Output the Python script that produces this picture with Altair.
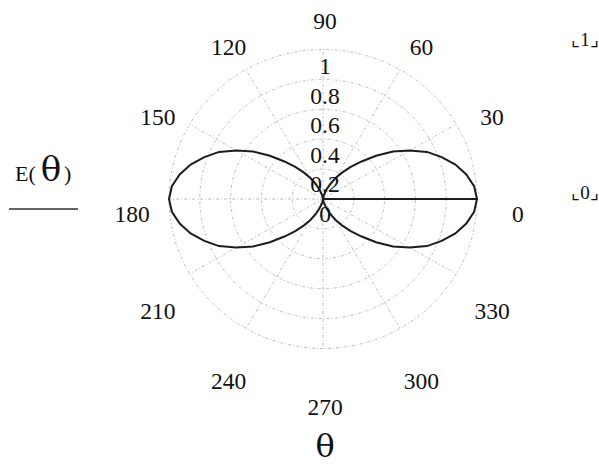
import altair as alt
import pandas as pd

# ---- field pattern E(theta): sample angle (deg) and relative magnitude ----
# the trace starts at the origin, runs out along 0 deg, then sweeps the full turn
theta_deg = [0] + list(range(0, 361, 5))
e_values = [
    0.0,
    # 0 .. 90
    1.00, 0.985, 0.945, 0.89, 0.82, 0.745, 0.65, 0.555, 0.45, 0.355,
    0.28, 0.215, 0.16, 0.11, 0.07, 0.035, 0.015, 0.005, 0.0,
    # 95 .. 180
    0.005, 0.015, 0.035, 0.07, 0.11, 0.16, 0.215, 0.28, 0.355,
    0.45, 0.555, 0.65, 0.745, 0.82, 0.89, 0.945, 0.985, 1.00,
    # 185 .. 270
    0.985, 0.945, 0.89, 0.82, 0.745, 0.65, 0.555, 0.45, 0.355,
    0.28, 0.215, 0.16, 0.11, 0.07, 0.035, 0.015, 0.005, 0.0,
    # 275 .. 360
    0.005, 0.015, 0.035, 0.07, 0.11, 0.16, 0.215, 0.28, 0.355,
    0.45, 0.555, 0.65, 0.745, 0.82, 0.89, 0.945, 0.985, 1.00,
]

# ---- polar frame ----
ring_levels = [0.2, 0.4, 0.6, 0.8, 1.0]
spoke_angles = [0, 30, 60, 90, 120, 150, 180, 210, 240, 270, 300, 330]
angle_labels = ["0", "30", "60", "90", "120", "150", "180", "210", "240", "270", "300", "330"]
radial_ticks = [0, 0.2, 0.4, 0.6, 0.8, 1.0]
radial_labels = ["0", "0.2", "0.4", "0.6", "0.8", "1"]

W, H = 599, 465
CX, CY = 323, 199          # pole position in pixels
KX, KY = 154, 149.5        # pixels per unit radius (x, y)

xs = alt.Scale(domain=[-CX / KX, (W - CX) / KX], nice=False, zero=False)
ys = alt.Scale(domain=[-(H - CY) / KY, CY / KY], nice=False, zero=False)

SERIF = "Liberation Serif"
GREEK = "DejaVu Serif"
GRID = "#b8b8b8"
INK = "#111111"

pattern = pd.DataFrame({"step": range(len(theta_deg)), "theta": theta_deg, "E": e_values})

curve = alt.Chart(pattern).transform_calculate(
    px="datum.E * cos(datum.theta * PI / 180)",
    py="datum.E * sin(datum.theta * PI / 180)",
).mark_line(color="#1c1c1c", strokeWidth=2, strokeJoin="miter").encode(
    x=alt.X("px:Q", scale=xs, axis=None),
    y=alt.Y("py:Q", scale=ys, axis=None),
    order="step:Q",
)

# concentric grid rings
ring_rows = [(r, a) for r in ring_levels for a in range(0, 361, 3)]
rings_df = pd.DataFrame(ring_rows, columns=["ring", "deg"])
rings = alt.Chart(rings_df).transform_calculate(
    px="datum.ring * cos(datum.deg * PI / 180)",
    py="datum.ring * sin(datum.deg * PI / 180)",
).mark_line(color=GRID, strokeWidth=0.9, strokeDash=[3, 2, 1, 2]).encode(
    x=alt.X("px:Q", scale=xs, axis=None),
    y=alt.Y("py:Q", scale=ys, axis=None),
    detail="ring:N",
    order="deg:Q",
)

# radial spokes every 30 degrees
spokes = alt.Chart(pd.DataFrame({"deg": spoke_angles})).transform_calculate(
    ox="0",
    oy="0",
    ex="cos(datum.deg * PI / 180)",
    ey="sin(datum.deg * PI / 180)",
).mark_rule(color=GRID, strokeWidth=0.9, strokeDash=[3, 2, 1, 2]).encode(
    x=alt.X("ox:Q", scale=xs, axis=None),
    y=alt.Y("oy:Q", scale=ys, axis=None),
    x2="ex:Q",
    y2="ey:Q",
)

# angle labels around the frame
ang = alt.Chart(pd.DataFrame({"deg": spoke_angles, "lab": angle_labels})).transform_calculate(
    px=f"1.253 * cos(datum.deg * PI / 180) + {2 / KX}",
    py=f"1.291 * sin(datum.deg * PI / 180) - {16 / KY}",
).mark_text(font=SERIF, fontSize=23.5, color=INK, align="center", baseline="middle").encode(
    x=alt.X("px:Q", scale=xs, axis=None),
    y=alt.Y("py:Q", scale=ys, axis=None),
    text="lab:N",
)

# magnitude labels up the 90-degree spoke
rad = alt.Chart(pd.DataFrame({"r": radial_ticks, "lab": radial_labels})).transform_calculate(
    px=f"{2 / KX}",
    py=f"datum.r * 0.99 - {16 / KY}",
).mark_text(font=SERIF, fontSize=23.5, color=INK, align="center", baseline="middle").encode(
    x=alt.X("px:Q", scale=xs, axis=None),
    y=alt.Y("py:Q", scale=ys, axis=None),
    text="lab:N",
)


def note(text, x, y, size, align="center", font=SERIF):
    return alt.Chart(pd.DataFrame({"t": [text]})).mark_text(
        font=font, fontSize=size, color=INK, align=align, baseline="alphabetic"
    ).encode(x=alt.value(x), y=alt.value(y), text="t:N")


legend_line = alt.Chart(pd.DataFrame({"k": [0]})).mark_rule(color="#333", strokeWidth=1.5).encode(
    x=alt.value(9), x2=alt.value(78), y=alt.value(209)
)

chart = alt.layer(
    rings,
    spokes,
    curve,
    ang,
    rad,
    note("E(", 15, 181, 22, align="left"),
    note("θ", 51, 181, 34, font=GREEK),
    note(")", 64, 181, 22, align="left"),
    legend_line,
    note("θ", 325, 457, 32, font=GREEK),
    note("⌞1⌟", 585, 46, 19),
    note("⌞0⌟", 585, 199, 19),
).properties(
    width=W,
    height=H,
    padding=0,
    autosize=alt.AutoSizeParams(type="none"),
    background="white",
).configure_view(stroke=None)

chart.save("out.html", embed_options={"renderer": "svg", "actions": False})
